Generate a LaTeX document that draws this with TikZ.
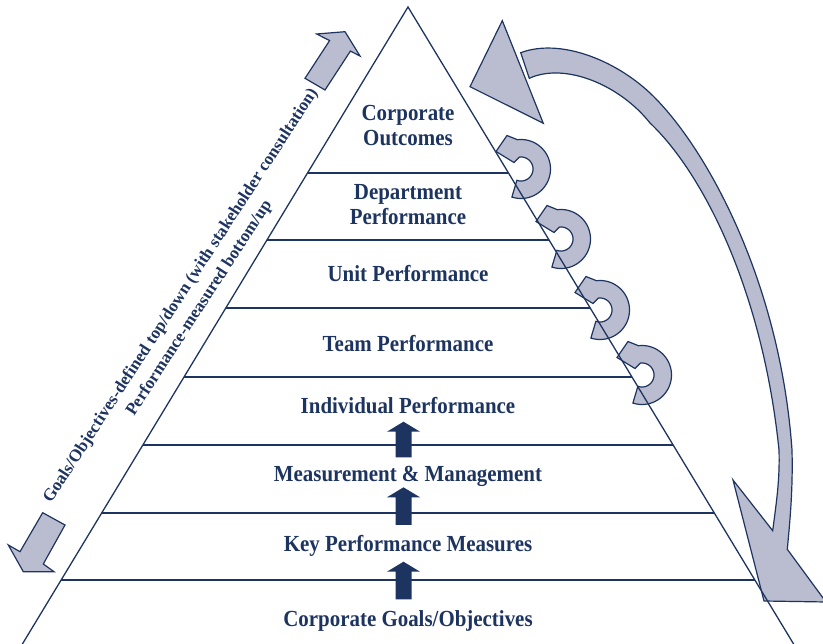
\documentclass[tikz,border=0pt]{standalone}
\usepackage{fontspec}
\setmainfont{Liberation Serif}
\newfontfamily\levelfont{Liberation Serif}[FakeStretch=0.91]
\usetikzlibrary{calc}
\definecolor{navy}{RGB}{30,52,96}
\definecolor{lilac}{RGB}{186,188,207}
\tikzset{
  edge/.style={draw=navy,line width=1.3pt},
  greyarrow/.style={draw=navy,fill=lilac,line width=1.2pt,line join=miter},
  darkarrow/.style={fill=navy},
  level/.style={text=navy,font=\levelfont\bfseries\fontsize{23}{25.5}\selectfont,align=center,anchor=base,inner sep=0pt},
  sidelabel/.style={text=navy,font=\bfseries\fontsize{17.2}{20}\selectfont,anchor=base,rotate=57,inner sep=0pt},
  % small feedback loop arrow, centred on its own origin
  loopback/.pic={
    \path[greyarrow] plot[domain=108:-97,samples=60] (\x:29.5)
      -- (-14,-33.5) -- (-25,-17.5) -- (-7,-6.5)
      -- plot[domain=-98:110,samples=60] (\x:12) -- cycle;
  }
}
\begin{document}
\begin{tikzpicture}[x=1pt,y=-1pt]
\useasboundingbox (0,0) rectangle (823,644);
\clip (0,0) rectangle (823,644);

% large return arrow on the right: shaft with lower head, and upper head
\path[greyarrow] (520.7,52.7) .. controls (560,38) and (615,60) .. (650,93)
  .. controls (705,145) and (780,280) .. (792,450)
  .. controls (793,490) and (790,520) .. (787.3,549.3)
  -- (826,602) -- (764,601) -- (733,480) -- (772.7,530.7)
  .. controls (776,505) and (780,480) .. (779,450)
  .. controls (762,285) and (700,170) .. (650,123)
  .. controls (620,85) and (565,62) .. (529.3,78.3) -- cycle;
\path[greyarrow] (502.3,20.7) -- (470,86.7) -- (543.3,123.3) -- cycle;

% feedback loops between the levels
\pic (lb1) at (521,169) {loopback};
\pic (lb2) at (561,239) {loopback};
\pic (lb3) at (600,310) {loopback};
\pic (lb4) at (642,375) {loopback};

% pyramid
\coordinate (apex) at (408,7);
\coordinate (bl) at (22.4,644);
\coordinate (br) at (793.6,644);
\foreach \n/\yy in {1/173,2/240,3/308,4/377,5/445,6/513,7/580}{
  \pgfmathsetmacro\lvlfrac{(\yy-7)/637}
  \coordinate (L\n) at ($(apex)!\lvlfrac!(bl)$);
  \coordinate (R\n) at ($(apex)!\lvlfrac!(br)$);
  \draw[edge] (L\n) -- (R\n);
}
\draw[edge,line join=miter] (bl) -- (apex) -- (br);

% upward block arrows in the lower levels
\foreach \n/\yy/\len in {1/421.7/35.6,2/487.3/37.7,3/561.7/37.6}{
  \coordinate (up\n) at (403.5,\yy);
  \fill[darkarrow] (up\n) -- ++(16.5,10) -- ++(-8.5,0) -- ++(0,{\len-10})
    -- ++(-16,0) -- ++(0,{10-\len}) -- ++(-8.5,0) -- cycle;
}

% direction arrows along the left side
\path[greyarrow] (316.7,34) -- (345,31.7) -- (360,56) -- (350.4,51.1)
  -- (325,90) -- (305,78.3) -- (329.6,40.6) -- cycle;
\path[greyarrow] (8.3,545) -- (23.3,571.7) -- (54,571.7) -- (43.3,564)
  -- (65,525) -- (42.7,512.7) -- (20,551.7) -- cycle;

% level labels (base = baseline of the last line)
\node[level] (lvl1) at (408,145.7) {Corporate\\Outcomes};
\node[level] (lvl2) at (408,225) {Department\\Performance};
\node[level] (lvl3) at (408,281.7) {Unit Performance};
\node[level] (lvl4) at (408,351.7) {Team Performance};
\node[level] (lvl5) at (408,413.3) {Individual Performance};
\node[level] (lvl6) at (408,481.7) {Measurement \& Management};
\node[level] (lvl7) at (408,551) {Key Performance Measures};
\node[level] (lvl8) at (408,626.7) {Corporate Goals/Objectives};

% side labels
\node[sidelabel] (topdown) at (184.5,298.2) {Goals/Objectives-defined top/down (with stakeholder consultation)};
\node[sidelabel] (bottomup) at (203,310.6) {Performance-measured bottom/up};
\end{tikzpicture}
\end{document}
